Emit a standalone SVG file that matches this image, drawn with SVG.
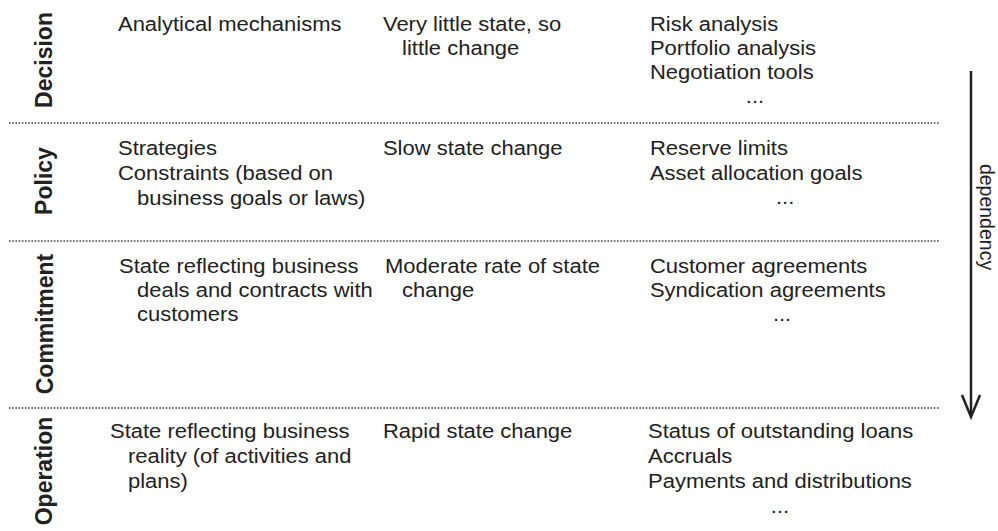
<svg xmlns="http://www.w3.org/2000/svg" width="998" height="531" viewBox="0 0 998 531">
<style>
.t{font-family:"Liberation Sans",Arial,sans-serif;font-size:19.5px;fill:#222}
.lab{font-family:"Liberation Sans",Arial,sans-serif;font-size:23px;font-weight:bold;fill:#222;text-anchor:middle}
.dep{font-family:"Liberation Sans",Arial,sans-serif;font-size:19.5px;fill:#222;text-anchor:middle}
.sep{stroke:#444;stroke-width:1.6;stroke-dasharray:1.6 1.6;fill:none}
.m{text-anchor:middle}
</style>
<rect width="998" height="531" fill="#fff"/>
<g id="connectors">
<line class="sep" x1="9" y1="123" x2="940" y2="123"/>
<line class="sep" x1="9" y1="241" x2="940" y2="241"/>
<line class="sep" x1="9" y1="408" x2="940" y2="408"/>
<line x1="971" y1="71" x2="971" y2="415" stroke="#222" stroke-width="2.5"/>
<polyline points="962,395 971,417 980,395" fill="none" stroke="#222" stroke-width="2.5"/>
</g>
<g id="labels">
<text class="lab" transform="translate(52,60) rotate(-90)">Decision</text>
<text class="lab" transform="translate(52,181) rotate(-90)">Policy</text>
<text class="lab" transform="translate(53,324) rotate(-90)">Commitment</text>
<text class="lab" transform="translate(52,471) rotate(-90)">Operation</text>
<text class="dep" transform="translate(980,217) rotate(90)">dependency</text>
</g>
<g transform="scale(1.128,1)">
<g id="decision">
<text class="t" x="104.6" y="31">Analytical mechanisms</text>
<text class="t" x="339.5" y="31">Very little state, so</text>
<text class="t" x="356.4" y="55">little change</text>
<text class="t" x="576.2" y="31">Risk analysis</text>
<text class="t" x="576.2" y="55">Portfolio analysis</text>
<text class="t" x="576.2" y="79">Negotiation tools</text>
<text class="t m" x="669.3" y="103">...</text>
</g>
<g id="policy">
<text class="t" x="104.6" y="155">Strategies</text>
<text class="t" x="104.6" y="180">Constraints (based on</text>
<text class="t" x="121.5" y="205">business goals or laws)</text>
<text class="t" x="339.5" y="155">Slow state change</text>
<text class="t" x="576.2" y="155">Reserve limits</text>
<text class="t" x="576.2" y="180">Asset allocation goals</text>
<text class="t m" x="696" y="204">...</text>
</g>
<g id="commitment">
<text class="t" x="105.5" y="273">State reflecting business</text>
<text class="t" x="121.5" y="297">deals and contracts with</text>
<text class="t" x="121.5" y="321">customers</text>
<text class="t" x="341.3" y="273">Moderate rate of state</text>
<text class="t" x="356.4" y="297">change</text>
<text class="t" x="576.2" y="273">Customer agreements</text>
<text class="t" x="576.2" y="297">Syndication agreements</text>
<text class="t m" x="693.3" y="321">...</text>
</g>
<g id="operation">
<text class="t" x="97.5" y="438">State reflecting business</text>
<text class="t" x="113.5" y="463">reality (of activities and</text>
<text class="t" x="113.5" y="488">plans)</text>
<text class="t" x="339.5" y="438">Rapid state change</text>
<text class="t" x="574.5" y="438">Status of outstanding loans</text>
<text class="t" x="574.5" y="463">Accruals</text>
<text class="t" x="574.5" y="488">Payments and distributions</text>
<text class="t m" x="691.5" y="513">...</text>
</g>
</g>
</svg>
